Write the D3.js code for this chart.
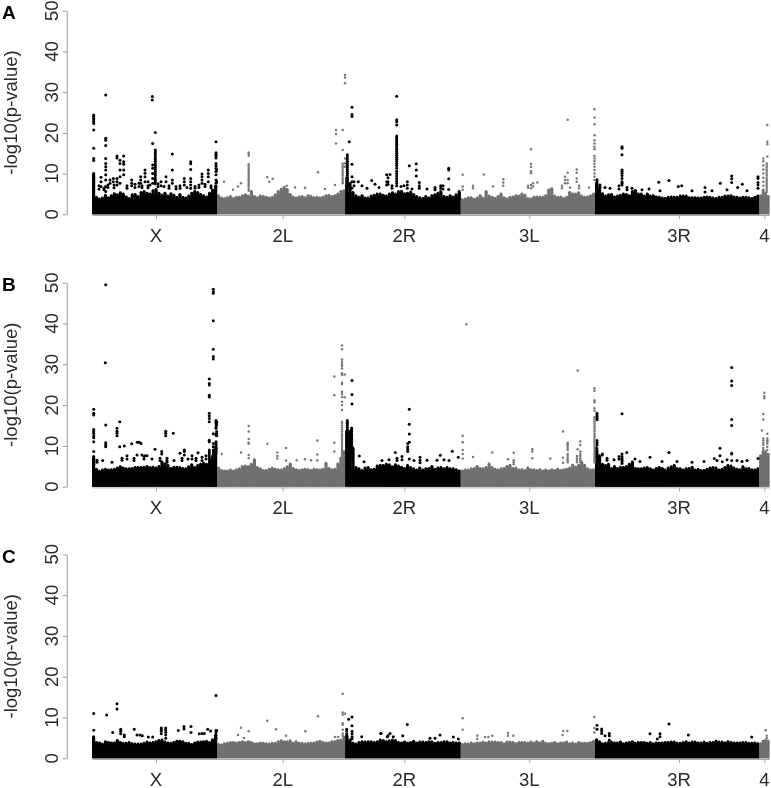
<!DOCTYPE html>
<html><head><meta charset="utf-8">
<style>html,body{margin:0;background:#fff}svg{display:block;filter:blur(.4px)}text{font-family:"Liberation Sans",Arial,sans-serif;fill:#2a2a2a}</style>
<script src="https://cdn.jsdelivr.net/npm/d3@7"></script></head><body>
<script>
const chromNames=["X","2L","2R","3L","3R","4"];
const chromLengths=[125,128.3,115.4,134.3,164.3,10];
const tickPositions=[64,190.7,312.3,437.3,587,672.3];
const chromColors=["#000","#707070","#000","#707070","#000","#707070"];
const yTicks=[0,10,20,30,40,50];
const panelNames=["A","B","C"];

// upper edge of the dense band, per chromosome, evenly spaced along it
const bandA=[
[9.6,4.2,3.8,4,4.7,4.1,4.6,5.1,4.8,5.3,5,4.3,3.9,4.8,4.9,4.4,5.4,5.6,5.2,5,5.8,6.1,5.2,4.7,5.2,4.5,5.1,4.7,4.2,4.9,4.2,4,4.5,5.2,5.6,5.4,4.9,4.6,4.3,5.2,6,7],
[4.6,4,3.9,4.1,4.4,3.9,4.2,4.2,4.6,4.8,4.5,5.6,4.4,4.1,4.5,4.4,4.2,4,4.2,4.8,5.6,6.2,6.6,6.1,4.9,4.3,4,4.3,4.4,4.1,4.6,4.4,4.1,4.2,4,4.2,4.6,4.7,4.4,4.6,5,5.6,5.8],
[9,7.6,5.4,4.6,4.2,4.6,4,4,4.5,4.7,5,5,4.7,4.5,5,5.3,5,5.6,5.7,5.1,5.2,5.5,4.9,4.4,4.1,3.9,4.4,4,4.6,4.8,5.2,5.3,4.4,4.2,4.6,4.3,4.8,5.6],
[3.6,3.8,4.1,4.1,3.7,4,4.6,4,5.6,4.5,4.2,3.9,4.4,5,4.1,3.8,4.2,4.3,4.6,4.5,5,4.7,3.9,3.8,4.2,4.3,4.2,4.2,4.6,6,6.3,4.5,4.2,4.3,3.9,4.2,5.4,5,5,5.3,4.5,4.2,4.3,4.6,5],
[7.6,6.6,5.1,4.5,4.8,4.9,4.3,4.5,4.7,5,4.9,4.6,5.6,5.9,5,5,4.5,5,4.5,4.6,4.3,4.2,4,3.9,4.2,4.3,4.2,4.2,4.5,4.5,4.5,4.1,4.1,4.1,4,4,4.2,4.3,4.2,4,3.9,4.2,4.2,4.5,4.5,4.6,4.3,4.2,4,4.2,4.2,4.1,3.9,4.2,4.5],
[4.6,5.8,5.2,4.4]];
const bandB=[
[7,4.3,3.8,4.1,4.3,4.1,4.2,4.3,4.6,4.9,4.6,4.4,4.4,4.5,4.7,4.7,4.7,4.8,5,4.7,4.8,4.6,5,6.1,5.6,5.2,4.5,4.8,4.8,4.7,4.5,4.4,4.9,5.4,4.7,5.2,5.5,5.8,5.5,6.6,7.5,9.6],
[4.6,4,3.9,3.9,4.1,3.9,4.2,4.4,5,5.1,5,5.5,6.6,4.7,4.4,4,4,4.3,4.6,4.3,4.2,4.1,4.4,4.9,5.6,4.5,4.2,4,4.2,4.3,4.2,4,4.3,4.2,4.1,4.3,5.8,4.5,4.2,4.3,5.6,7,8.6],
[13.6,13.6,9.5,4.7,4.4,4,4.6,4.7,4.2,4.3,5.1,5.3,5.2,5.5,5.4,4.9,5.4,5.1,4.8,4.5,5.2,4.7,4.4,4.1,4.6,4.1,4.4,4.5,5,4.3,4.6,4.7,4.4,4.7,4.4,4.4,4.2,3.9],
[3.9,4.1,4.1,4.4,4.5,5,4.5,4.4,4.7,5.6,4.7,4.3,4.1,4.4,4.5,5,5.3,4.5,4.6,4.1,4.2,4,4.6,4.2,4.2,4,4.2,3.9,4.1,3.9,4.2,4,4.3,4,4.2,4.3,4.6,5.3,4.8,5.3,6.1,5.3,4.4,4.1,4.2],
[9.6,7.6,5.5,5.2,5.5,4.5,5,4.5,4.8,4.7,5,5.5,6.1,4.5,4.4,4.4,4.6,4.7,4.4,4.1,4.5,4.7,4.5,4.1,4.6,4.9,5.2,4.5,4.4,4.1,4.4,4.5,4.8,4.1,4.3,4,4,4.3,4.6,4.7,4.6,4.1,4.3,4.7,5.2,5.1,4.6,4.3,4.2,4.9,4.4,4.5,4.2,4.1,4.4],
[7.6,8.5,8.6,8]];
const bandC=[
[5,3.9,3.8,3.5,4.1,3.9,3.8,3.8,4.4,3.9,3.7,3.7,3.9,3.6,3.5,3.5,3.5,3.7,4,3.8,3.9,4.1,4.4,4.5,4,3.8,3.7,3.9,4.2,4.2,4.1,3.7,3.7,3.4,3.8,4,4,4.1,4.2,3.9,4.6,5.6],
[3.4,3.3,3.6,3.7,3.9,3.9,3.8,3.9,4.1,3.9,4.1,3.9,3.6,3.6,3.8,3.7,3.6,3.5,3.7,3.7,4.1,4.3,4.1,4.1,4.3,3.7,4.1,3.7,3.7,3.5,3.7,3.7,3.8,4,4.2,3.9,3.8,3.8,4.1,4.1,4.4,4.5,5.2],
[5.6,4.5,3.8,3.5,3.9,4.1,4,4.1,4.1,3.9,4.1,4.5,4.4,4.1,4.3,4.5,4.4,3.9,3.8,4,3.8,3.9,4.2,3.8,4,4,3.9,4.1,4.1,3.7,3.9,3.9,4.1,4.1,3.8,3.9,3.8,3.8],
[3.4,3.6,3.5,3.8,3.6,3.8,3.8,4,3.8,4,4,4,3.9,3.9,3.6,4,4,3.9,3.6,3.9,3.9,3.9,3.7,4,3.8,4.1,3.8,4.2,3.7,3.6,3.7,3.9,3.6,3.8,3.8,4,3.6,3.8,3.5,3.9,3.7,3.7,3.7,3.9,4.2],
[4.6,4.1,3.6,3.7,3.9,4,3.8,3.8,4,3.6,3.8,3.9,4.1,3.7,3.9,3.9,3.9,3.7,3.9,3.6,3.8,3.8,3.8,3.9,3.9,4,4,3.7,3.7,3.9,4.1,3.8,4,4,3.8,3.8,4,3.7,3.9,3.9,4.2,4,4,3.8,4.1,3.9,3.8,3.8,3.8,3.9,3.9,3.7,3.7,3.8,3.6],
[3.6,4.2,4.4,4.2]];

// each row: genome position, then the -log10(p) values seen at it
const hitsA=[
[1.7,24.4,24,23.6,23.2,22.7,22.3,20.7,16.2,13.7,13.2,10,9.7,9.3,8.9,8.5,8,7.5,7,6.5],
[13.7,29.3,18.7,18.2,16.9,13.7,12.5,11.7,10.9,9.7,8.4,6.8,5.6],[9,9.1,8,6.8],[25,14.3,13.8,8.8,8,7.2],
[31.7,14.3,12.9,12.3,10.9,9.7],[28,13.3,12.5,10.9,9.2,7.6],[21.3,8.8,8],[18,8.4,7.6],[39.7,8.4,7.6,7],[48.7,9.2,8.4,7.6],
[53,10.9,10.1,9.2,8],[60.3,28.9,28.1],[63.3,20.1,15.8,15.3,14.9,14.4,13.9,13.5,13,12.5,12,11.5,11,10.5,10,9.5,9,8.5,8,7.5],
[60.7,17.4,12.1,11.3,10,8.8,7.6],[74,9.2,8],[80.3,14.8,10.9,8.4,7.6],[92.3,8.8,8,7.2],[98.7,12.9,12.4,11,8.8,8,7.2,6.4],
[110,9.9,9.2,8.4,7.6],[116.3,10.9,10,9.2,8],[124,17.8,15.1,14.7,14.3,13.8,12.5,11.9,11.3,10.5,9.7,8.4,7.6,6.8],[124.7,10.9,8],
[7,7,6.2],[12,6.4,6],[16,6.6,7.2],[22,7.2,6.5],[35,7,6.4],[43,7.4,6.6],[47,6.8,7.6],[50,7,6.5],[56,8,7,6.5],[58,7.2],[66,7.5,6.8],[69,7,8],[72,6.8],[77,7,6.4],[84,6.8,6.2],[88,7,6.4],[95,6.6],[103,6.8,6.4],[107,7.2,6.6],[113,7.4,6.8],[119,7,6.5],
[132,8],[141,6],[146,6.8],[149,7.6],[156.7,15.2,14.8,14.4,12.3,11.8,11.3,10.9,10.4,10,9.5,9.1,8.6,8.2,7.7,7.2,6.8,6.3,5.8],
[175.3,9.1],[177.3,8],[180.7,8.7],[194.7,7],[203,6.6],[213,6.5],[226,10.3],[233,6.2],[243,7.2],[244,20.7,19.7,17.4],
[250.7,20.7,15.8,12.5,12,11.5,11,10.5,10,9.5,9,8.5,8,7.6],[253,34.2,33.6,32.2,13.7,12.5,11.7],
[255.3,14.6,14.1,13.6,13,12.5,12,11.5,11,10.5,10,9.5,9,8.5,8,7.5,7],[260,26.3,24.5,24,12.3,9.2,8,6.4],[257.3,17.8],[266.3,8],
[279.7,8.3],[283,7.4],[294.7,9.7,8,7.2],[296,9,8,7.4],[298,9.8],
[304.7,29,23.2,22.7,21.9,19.2,18.8,18.4,18,17.6,17.2,16.8,16.3,15.9,15.4,15,14.5,14,13.5,13,12.5,12,11.3,10.6,10,9.4,8.8,8.2,7.6,7],
[317.3,11.9],[324.3,12.4,10.9,9.4],[327.3,7.8,7,6.4],[315.3,8,7.2,6.4],[348.7,7,6.4,5.6],[356.7,11.3,10.9,8.7,6.1],
[262,8,7],[270,7],[275,6.4],[287,6.6],[300,7,6.4],[309,6.8],[312,7],[320,6.2],[335,6.2],[343,6.6,6],[351,7,6.2],
[370.7,9.7,6.8,6],[391.7,9.8],[411.3,8.6,7.8,7],[439,16,12.4,11.7,10.6,10.1,7.2,6.4],[445.3,7.8],[473,9.2,8.4,7.6],
[475.7,23.2,10.2,8.4,7.6],[484.7,11,10.2,8.8,8],[502.5,25.8,23.8,22.1,19.4,18.2,17.4,16.6,16,14.3,13.7,13.1,12.4,11.7,10.9,10,9.2,8.4],
[381,7,6.4],[401,6.8],[436,7,6.5],[441,7.6,6.8],[470,7,6.4],[478,6.6],[487,7,6.4],[497,6.6],
[505,8.5,8,7.5,7,6.5],[530,16.6,16.2,14.6,10.9,10.5,10.1,9.5,8.8,8,7.6,7.2],[566.7,7.9],[568,5.8],[577,8.3],[586.3,6.8],[589.7,7],
[613,6.6,5.5],[628.3,7.6],[639.7,9.4,8.7,7.8],[645.7,6.6],[650.3,7.4],[666,9.2,8.8,7.8,7.2,6.4],
[508,7.2,6.6],[513,6.6],[518,6.4],[527,7,6.2],[535,6.6,6],[540,6.4],[550,6],[557,6.2],[600,5.8],[620,5.8],[635,6],[655,5.8],
[675.3,21.9,17.8,17.2,14.2],[671.3,13.7,13,12,11,10,9,8,7,6],[674.7,12.5,12,11.5,11,10.5,10,9.5,9,8.5,8,7.5,7,6.5,6,5.5]];
const hitsB=[
[1.7,19,18,17.6,14,13.5,13.1,12.5,12,11,8.6,7.4,7,6.5,6,5.5],[13.7,49.5,15.1,10.8,10.2,9.8],[13.3,30.4],[10.7,6.4],
[25,14.3,13.6,13.1,12.5],[27.7,15.9,9.8],[32.3,10],[39.7,10.5],[45.3,10.9],[47.3,10.9],[49,10.6],[63,9.2],[73.7,13.6,13.1,12.5],
[81.3,13.1],[69.7,8.6,8],[92.3,9,8.6,7.8],[88,8.2],[45,7.8],[50,7.8],[53,7.6],[55,7.6],[106,8.3],
[5,6.5,6],[20,6],[30,7,6.5],[35,7.6,6.8],[42,7,6.4],[52,7.4,6.8],[60,6.8],[68,7,6.4],[75,7,6.4,6],[82,6.4],[90,7,6.4],[96,6.8],[100,7.6,6.8],[104,7,6.4],[110,7.2,6.4],[114,7.6,6.8],[118,6.6],
[121.3,48.4,47.8,47.4,40.7,33.7,31.9,31.3,13,10.6,9.8,9,8.5,8],[117.3,26.4,25.3,24.9,22.4,22,18,17.4,16.7,15.9,11.4,11,9,8.5,8,7.5,7],
[124,16.2,15.8,15.4,14.7,14.3,13,12.7,11,10.6,10.2,9.8,9.4,9,8.6,8.2],[124.7,15.8,15.1,13.5,13,12.5],[129.7,8],
[149,8.4],[156.7,14.9,13.5,11.7,10.8,10.5,7.8,7],[175.3,10.5],[185.3,8.4,7.5,6.9],[194,9.5,6.4],[204.7,6.5],[213,6.7],[219,6.5],
[225.3,11.3,7.9,6.4],[242.3,27,22.4,10.8,8.6],
[250,34.6,33.7,31.2,30.6,30.1,29.6,29,27.8,27.4,25.5,25.2,23.3,22.7,22,20.8,20,18.8,15.9,15.5,15,14.5,14,13.5,13,12.5,12,11.5,11,10.5,10,9.5,9,8.5,8,7.5,7,6.5],
[252.7,27.5,21.9],[260,26,22.6,20.3],
[255.3,16.2,15.8,15.4,15,14.5,14,13.5,13,12.5,12,11.5,11,10.5,10,9.5,9,8.5,8,7.5,7,6.5],
[259.7,14.4,14,13.5,13,12.5,12,11.5,11,10.5,10,9.5,9,8.5,8,7.5,7,6.5],[267.3,7.5],[272,6.1],
[290,6.4],[297,6.6],[305,7,6.4],[310,7.4,6.6],[322,6.4],[335,6.5],[345,6.5],[352,6.6],[357,6.4],
[303.3,8.4],[317.3,19,15.3,12.9,10.9,6.8],[315.7,10.6,9.8,9.2,8.6],[328,7.2,6.5,5.9],[348.3,7.7],[360.3,8.7],[366.3,7.2],
[370.7,12.5,10.9,9,8,6.9],[374.3,39.8],[381,7.3],[400.3,8.4],[416,6.7],[421.7,8.3,6.5,6,5.5],[440.3,9.2,8.6,7],[458.3,6.9],
[471,13.5,7.1,5.9],[475.7,10.8,10.4,10,9.5,9,8,7.5,7,6.5,6],[485.7,28.5,9.2],[488.3,11.1,10.2,8.6,8,7.5,7,6.5,6],[485,7.5,7,6.5,6],
[505,18,17.6,17.2,16.8,16.4,11.3,10.8,10.2,8.6,8,7.5,7,6.5,6],
[502.5,24.1,23.5,21.2,20.7,19.2,18.6,17,16.5,16,15.5,15,14.5,14,13.5,13,12.5,12,11.5,11,10.5,10,9.5,9,8.5,8,7.5,7,6.5,6],
[510.3,8,7.8],[530,17.9,8,7.4,6.9,6.5,6.1,5.7],[534.7,8.4],[543,6.8],[558,7.2],[577,8.4],[622.3,6.9],[628,9.4,7.6],[630.3,6.1],
[507,7],[515,7,6.5],[522,6.6],[527,7.4,6.8],[548,6.2],[570,6.2],[585,6.2],[600,6],[612,6.2],[625,6.4],[635,6.6],[645,6.4],[650,6.2],[655,6.4],
[639.7,29.2,25.9,24.8,16.5,15,8.2,8,6.4],[666,6.9],
[672.3,23,22.2,21.7],[671.3,17.8,16.5,11.8,11.3,10.8,10.3,9.5,9],[670,13.8],[675.3,13,11.8,11.4,11,10.6,9.8,9]];
const hitsC=[
[1.7,11,6.9,5.3,4.8],[14.7,10.6],[25,13.4,12.1],[20.7,6.3],[28.7,7.1,6.6,6],[32.3,5.7,5.3],[42.3,7.1],[45,5.7],[48,5.7],[50.3,5.5],
[56.3,5.2],[60.7,5.2],[69.3,7.4,7,6.6,6],[73.7,7.4,7,6.4,5.7,4.9],[86.3,6.8],[92,7.8,7.2],[99,7.8,6.3],[107.3,6],[110,6.1],[112.3,6.1],
[115.7,7.1],[118.7,6.7],[124,15.4,6.8,6.3,5.7,4.9],[124.7,6.8],
[149,7.5],[146,5.7],[152,5],[156.7,6.6],[175.3,9.2],[184,7.1],[194,5.5],[213.3,6.6],[226,10.3],[243,5.2],[246,5.2],
[250.7,15.8,11.2,10.7,8.6,8.2,7,6.1,5.5],[253,10.9],
[256.7,9.6],[260,10.1,8,6.6,6,5.3,4.8],[254.7,7.1,6.7,6,5.3],[269.7,5.3],[289,6.1],[296,5.5],[288.7,6.1],[298,6.1],[295.3,5.3],[301.3,5.3],
[310.7,5.5],[315.3,8.3],[338,4.9],[343,4.9],[348,5.7],[361.3,5.2],[366.3,4.7],
[370.7,9.8,7],[385.3,5.5,4.7],[393,5.2],[396.3,5.2],[400.3,5.5],[416,6.2,5.5],[421.3,5.5],[471.3,6.7],[475.3,6.7],[470.7,5.7],
[502.3,10.1,7.4,6.3],[505,8.1,7.1],[509.7,7.2,6.7,6.1],[513,5.5],[517.3,6.1,5.5,4.5],[558,6],[568,6,5.3],[565.3,4.7],[577,8.4],[596.3,5.7],[659.7,5.2],
[673.7,6.9],[674.7,5.5,4.9]];

const W=771,H=788;
const layouts=[{top:10.7,bottom:214.3,labelY:18.8,xLabelY:241.5},{top:282.7,bottom:486.7,labelY:290.5,xLabelY:513.5},{top:554.3,bottom:758.3,labelY:562.5,xLabelY:785.5}];
const bands=[bandA,bandB,bandC],hits=[hitsA,hitsB,hitsC];
const starts=d3.cumsum([0,...chromLengths.slice(0,-1)]);
const x=d3.scaleLinear().domain([0,d3.sum(chromLengths)]).range([92,769.3]);
const chromOf=u=>{let i=d3.bisectRight(starts,u)-1;return Math.max(0,Math.min(5,i));};
const svg=d3.select("body").append("svg").attr("width",W).attr("height",H);

panelNames.forEach((name,p)=>{
  const L=layouts[p];
  const y=d3.scaleLinear().domain([0,50]).range([L.bottom,L.top]);
  const ax=svg.append("g").attr("transform",`translate(0,${L.bottom+.7})`)
    .call(d3.axisBottom(x).tickValues(tickPositions).tickSize(4).tickSizeOuter(0).tickFormat(""));
  ax.selectAll(".domain,line").attr("stroke","#aaa").attr("stroke-width",1);
  const g=svg.append("g");
  chromNames.forEach((c,i)=>{
    const vals=bands[p][i],n=vals.length,len=chromLengths[i],s=starts[i];
    const rows=vals.map((v,k)=>({u:s+len*k/n,v:Math.min(v,d3.min([vals[k-1]??v,v,vals[k+1]??v]))}));
    rows.push({u:s+len,v:rows[n-1].v});
    g.append("path").datum(rows)
      .attr("d",d3.area().curve(d3.curveStepAfter).x(d=>x(d.u)).y0(y(0)).y1(d=>y(d.v)))
      .attr("fill",chromColors[i]);
    g.selectAll(null).data(vals).join("rect")
      .attr("x",(v,k)=>x(s+len*k/n)).attr("width",(x(len)-x(0))/n+.2)
      .attr("y",v=>y(v)).attr("height",v=>y(0)-y(v)).attr("fill",chromColors[i]);
    g.selectAll(null).data(vals).join("circle")
      .attr("cx",(v,k)=>x(s+len*(k+.5)/n)).attr("cy",v=>y(v)).attr("r",1.4).attr("fill",chromColors[i]);
  });
  const pts=hits[p].flatMap(([u,...vs])=>vs.map(v=>({u,v})));
  g.selectAll(null).data(pts).join("circle")
    .attr("cx",d=>x(d.u)).attr("cy",d=>y(d.v))
    .attr("r",d=>chromOf(d.u)%2?1.25:1.5)
    .attr("fill",d=>chromOf(d.u)%2?"#7a7a7a":"#000");
  const ay=svg.append("g").attr("transform","translate(66.7,0)").call(d3.axisLeft(y).tickValues(yTicks).tickSize(4).tickSizeOuter(0).tickFormat(""));
  ay.selectAll(".domain,line").attr("stroke","#999").attr("stroke-width",1);
  svg.selectAll(null).data(yTicks).join("text")
    .attr("transform",d=>`translate(57.5,${y(d)}) rotate(-90)`)
    .attr("text-anchor","middle").attr("font-size",18.5).text(d=>d);
  svg.selectAll(null).data(tickPositions).join("text")
    .attr("x",d=>x(d)).attr("y",L.xLabelY).attr("text-anchor","middle").attr("font-size",18.5)
    .text((d,i)=>chromNames[i]);
  svg.append("text").attr("transform",`translate(17,${(L.top+L.bottom)/2}) rotate(-90)`)
    .attr("text-anchor","middle").attr("font-size",18.5).text("-log10(p-value)");
  svg.append("text").attr("x",2).attr("y",L.labelY).attr("font-size",19).attr("font-weight","bold").style("fill","#000").text(name);
});
</script></body></html>
